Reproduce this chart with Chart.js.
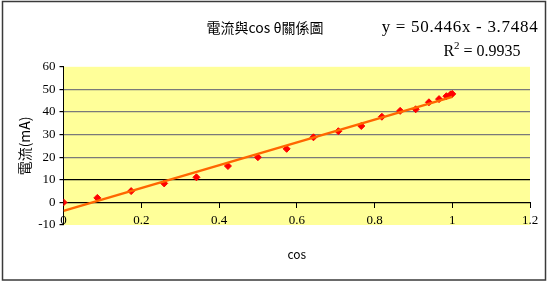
<!doctype html>
<html lang="zh-Hant">

<head>
    <meta charset="utf-8">
    <title>電流與cos θ關係圖</title>
    <script src="https://cdn.jsdelivr.net/npm/chart.js@4.4.0/dist/chart.umd.min.js"></script>
    <style>
        html, body { margin: 0; padding: 0; background: #fff; }
        #box { width: 550px; height: 286px; }
    </style>
</head>

<body>
    <div id="box">
        <canvas id="myChart" width="550" height="286"></canvas>
    </div>
</body>
<script>
    // cos θ 與電流 (mA)
    var cosData = [0, 0.087, 0.174, 0.259, 0.342, 0.423, 0.5, 0.574, 0.643, 0.707, 0.766, 0.819, 0.866, 0.906, 0.94, 0.966, 0.985, 0.996, 1];
    var currentData = [0, 2.0, 5.0, 8.4, 11.1, 16.1, 20.0, 23.7, 28.8, 31.5, 33.8, 37.9, 40.5, 41.2, 44.3, 45.7, 47.0, 47.8, 48.0];

    // 趨勢線 y = 50.446x - 3.7484
    var slope = 50.446;
    var intercept = -3.7484;
    var rSquared = "0.9935";

    var xTicks = [0, 0.2, 0.4, 0.6, 0.8, 1, 1.2];
    var yTicks = [-10, 0, 10, 20, 30, 40, 50, 60];

    var points = [];
    for (var i in cosData) {
        points.push({ x: cosData[i], y: currentData[i] });
    }
    var xMin = Math.min.apply(null, cosData);
    var xMax = Math.max.apply(null, cosData);
    var trend = [
        { x: xMin, y: slope * xMin + intercept },
        { x: xMax, y: slope * xMax + intercept }
    ];

    var serif = "'Liberation Serif', 'Times New Roman', serif";
    var cjk = "'Noto Sans CJK TC', 'Noto Sans', sans-serif";

    // 外框、黃色底、方程式
    var decor = {
        id: 'decor',
        beforeDraw: (chart) => {
            var ctx = chart.ctx;
            var a = chart.chartArea;
            ctx.save();
            ctx.fillStyle = '#fff';
            ctx.fillRect(0, 0, chart.width, chart.height);
            ctx.fillStyle = '#FFFF99';
            ctx.fillRect(a.left, a.top, a.right - a.left, a.bottom - a.top);
            ctx.restore();
        },
        afterDraw: (chart) => {
            var ctx = chart.ctx;
            ctx.save();
            ctx.strokeStyle = '#3a3a3a';
            ctx.lineWidth = 1.5;
            ctx.strokeRect(2.5, 1.5, 543, 278.5);

            ctx.fillStyle = '#000';
            ctx.textBaseline = 'middle';
            ctx.textAlign = 'center';
            ctx.letterSpacing = '0.7px';
            ctx.font = '17px ' + serif;
            var sign = intercept < 0 ? ' - ' : ' + ';
            ctx.fillText('y = ' + slope + 'x' + sign + Math.abs(intercept), 460, 28);

            // R² = ...
            ctx.letterSpacing = '0px';
            var rest = ' = ' + rSquared;
            ctx.font = '16px ' + serif;
            var wR = ctx.measureText('R').width;
            ctx.font = '11px ' + serif;
            var w2 = ctx.measureText('2').width;
            ctx.font = '16px ' + serif;
            var wRest = ctx.measureText(rest).width;
            var x0 = 482 - (wR + w2 + wRest) / 2;
            ctx.textAlign = 'left';
            ctx.fillText('R', x0, 52);
            ctx.font = '11px ' + serif;
            ctx.fillText('2', x0 + wR, 46);
            ctx.font = '16px ' + serif;
            ctx.fillText(rest, x0 + wR + w2, 52);
            ctx.restore();
        }
    };

    var gridColor = (c) => {
        var v = c.tick ? c.tick.value : null;
        if (v === 0 || v === 10) return '#000';
        if (v > 10 && v < 60) return '#7a7a7a';
        return 'rgba(0,0,0,0)';
    };

    var chart1 = document.getElementById('myChart');
    var Chart1 = new Chart(chart1, {
        type: 'scatter',
        data: {
            datasets: [{
                label: '趨勢線',
                data: trend,
                showLine: true,
                borderColor: '#FF6600',
                borderWidth: 2.5,
                pointRadius: 0,
                pointHoverRadius: 0
            }, {
                label: '電流',
                data: points,
                pointStyle: 'rectRot',
                pointRadius: 3.5,
                backgroundColor: '#FF0000',
                borderColor: '#FF0000',
                borderWidth: 1
            }]
        },
        plugins: [decor],
        options: {
            responsive: false,
            animation: false,
            layout: { padding: { left: 0, right: 20, top: 0, bottom: 61 } },
            plugins: {
                legend: { display: false },
                tooltip: { enabled: false },
                title: {
                    display: true,
                    text: '電流與cos θ關係圖',
                    color: '#000',
                    font: { family: cjk, size: 14, weight: 'normal' },
                    padding: { top: 19, bottom: 31 }
                }
            },
            scales: {
                x: {
                    type: 'linear',
                    position: { y: 0 },
                    min: 0,
                    max: 1.2,
                    afterBuildTicks: (s) => { s.ticks = xTicks.map(v => ({ value: v })); },
                    grid: {
                        drawOnChartArea: false,
                        drawTicks: true,
                        tickLength: 5,
                        tickColor: '#000'
                    },
                    border: { color: '#000', width: 1 },
                    ticks: {
                        color: '#000',
                        padding: 5,
                        maxRotation: 0,
                        font: { family: serif, size: 13 },
                        callback: (v) => String(v)
                    },
                    title: {
                        display: true,
                        text: 'cos',
                        color: '#000',
                        font: { family: cjk, size: 12 },
                        padding: { top: 14, bottom: 0 }
                    }
                },
                y: {
                    type: 'linear',
                    min: -10,
                    max: 60,
                    afterBuildTicks: (s) => { s.ticks = yTicks.map(v => ({ value: v })); },
                    afterFit: (s) => { s.width = 63.5; },
                    grid: {
                        color: gridColor,
                        lineWidth: 1.2,
                        drawTicks: true,
                        tickLength: 4,
                        tickColor: '#000'
                    },
                    border: { color: '#000', width: 1 },
                    ticks: {
                        color: '#000',
                        padding: 4,
                        font: { family: serif, size: 13 }
                    },
                    title: {
                        display: true,
                        text: '電流(mA)',
                        color: '#000',
                        font: { family: cjk, size: 14 },
                        padding: { top: 16, bottom: 0 }
                    }
                }
            }
        }
    });
</script>

</html>
